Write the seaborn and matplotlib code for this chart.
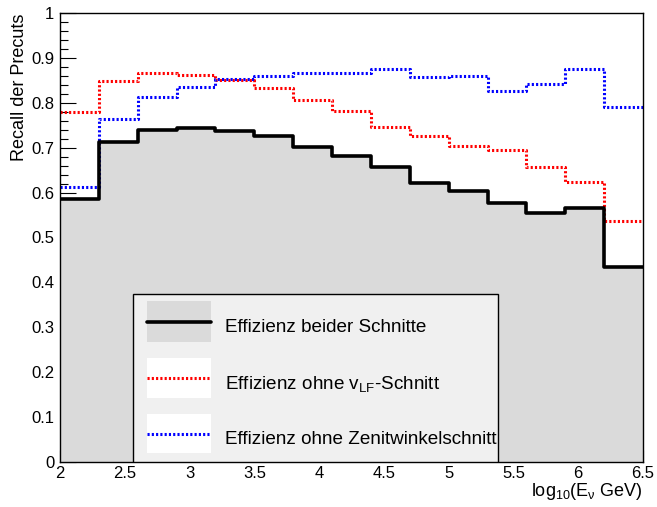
import numpy as np
import pandas as pd
import matplotlib
matplotlib.use("Agg")
import matplotlib.pyplot as plt
from matplotlib.patches import Rectangle
from matplotlib.lines import Line2D
from matplotlib.ticker import MultipleLocator, FuncFormatter
import seaborn as sns

# log10(E_nu / GeV) bin edges
bin_edges = [2.0, 2.3, 2.6, 2.9, 3.2, 3.5, 3.8, 4.1, 4.4, 4.7, 5.0, 5.3, 5.6, 5.9, 6.2, 6.5]

# efficiency per bin
eff_both = [0.585, 0.712, 0.739, 0.743, 0.738, 0.725, 0.702, 0.681, 0.658,
            0.621, 0.604, 0.576, 0.554, 0.565, 0.435]
eff_no_vlf = [0.780, 0.849, 0.866, 0.863, 0.851, 0.834, 0.806, 0.782, 0.745,
              0.725, 0.704, 0.695, 0.658, 0.624, 0.537]
eff_no_zenith = [0.612, 0.763, 0.812, 0.836, 0.852, 0.860, 0.867, 0.867, 0.875,
                 0.858, 0.860, 0.827, 0.841, 0.876, 0.791]

legend_labels = ["Effizienz beider Schnitte",
                 "Effizienz ohne v$_{\\mathregular{LF}}$-Schnitt",
                 "Effizienz ohne Zenitwinkelschnitt"]
y_label = "Recall der Precuts"
x_label = "log$_{\\mathregular{10}}$(E$_{\\mathregular{\\nu}}$ GeV)"

sns.set_theme(style="white")
plt.rcParams["font.family"] = ["Liberation Sans", "DejaVu Sans"]
plt.rcParams["mathtext.default"] = "regular"
plt.rcParams["mathtext.fontset"] = "custom"
plt.rcParams["mathtext.rm"] = "Liberation Sans"
plt.rcParams["mathtext.it"] = "Liberation Sans"

centers = [(a + b) / 2 for a, b in zip(bin_edges[:-1], bin_edges[1:])]
df = pd.DataFrame({"logE": centers, "both": eff_both,
                   "no_vlf": eff_no_vlf, "no_zenith": eff_no_zenith})

W, H = 657, 507
fig = plt.figure(figsize=(W / 100, H / 100), dpi=100)
ax = fig.add_axes([60 / W, 1 - 462 / H, (643 - 60) / W, (462 - 13) / H])

fill_grey = "#dadada"
dot = (0, (0.7, 0.7))

# filled histogram of the combined efficiency
sns.histplot(data=df, x="logE", weights="both", bins=bin_edges, element="step",
             fill=True, color=fill_grey, alpha=1, linewidth=0, ax=ax, zorder=1)
sns.histplot(data=df, x="logE", weights="no_vlf", bins=bin_edges, element="step",
             fill=False, color="#ff0000", linewidth=2.2, linestyle=dot, ax=ax, zorder=3)
sns.histplot(data=df, x="logE", weights="no_zenith", bins=bin_edges, element="step",
             fill=False, color="#0000ff", linewidth=2.2, linestyle=dot, ax=ax, zorder=3)
sns.histplot(data=df, x="logE", weights="both", bins=bin_edges, element="step",
             fill=False, color="black", linewidth=2.6, ax=ax, zorder=4)

ax.set_xlim(2, 6.5)
ax.set_ylim(0, 1)
ax.set_xlabel("")
ax.set_ylabel("")

fmt = FuncFormatter(lambda v, p: f"{v:g}")
ax.xaxis.set_major_locator(MultipleLocator(0.5))
ax.xaxis.set_minor_locator(MultipleLocator(0.1))
ax.yaxis.set_major_locator(MultipleLocator(0.1))
ax.yaxis.set_minor_locator(MultipleLocator(0.02))
ax.xaxis.set_major_formatter(fmt)
ax.yaxis.set_major_formatter(fmt)
ax.tick_params(axis="both", which="both", direction="in", color="black",
               labelsize=12, labelcolor="black", left=True, bottom=True,
               top=False, right=False)
ax.tick_params(axis="y", which="major", length=11.5, width=0.8, pad=4)
ax.tick_params(axis="y", which="minor", length=5.8, width=0.8)
ax.tick_params(axis="x", which="major", length=8.6, width=0.8, pad=3)
ax.tick_params(axis="x", which="minor", length=4.3, width=0.8)
for s in ax.spines.values():
    s.set_color("black")
    s.set_linewidth(1.0)
    s.set_zorder(6)
ax.set_facecolor("white")

# legend box
lx0, lx1 = (133 - 60) / 583, (498 - 60) / 583
ly0, ly1 = 0.0, (462 - 294) / 449
ax.add_patch(Rectangle((lx0, ly0), lx1 - lx0, ly1 - ly0, transform=ax.transAxes,
                       facecolor="#f0f0f0", edgecolor="black", linewidth=1.0, zorder=7))
hx0, hx1 = (147 - 60) / 583, (211 - 60) / 583
entries = [
    (301, 342, fill_grey, "black", "-", 2.6, 327),
    (358, 398, "white", "#ff0000", dot, 2.2, 384),
    (414, 453, "white", "#0000ff", dot, 2.2, 439),
]
for (t, b, fc, lc, ls, lw, ty), lab in zip(entries, legend_labels):
    yt, yb = (462 - t) / 449, (462 - b) / 449
    ax.add_patch(Rectangle((hx0, yb), hx1 - hx0, yt - yb, transform=ax.transAxes,
                           facecolor=fc, edgecolor="none", zorder=8))
    ym = (yt + yb) / 2
    ax.add_line(Line2D([hx0, hx1], [ym, ym], transform=ax.transAxes, color=lc,
                       linestyle=ls, linewidth=lw, zorder=9))
    ax.text((225 - 60) / 583, (462 - ty) / 449, lab, transform=ax.transAxes,
            ha="left", va="center", fontsize=13.6, color="black", zorder=9)

fig.text(20 / W, 1 - 14 / H, y_label, rotation=90, ha="center", va="top",
         fontsize=13, color="black")
fig.text(643 / W, 1 - 492 / H, x_label, ha="right", va="center",
         fontsize=13, color="black")

fig.savefig("out.png", dpi=100, facecolor="white")
